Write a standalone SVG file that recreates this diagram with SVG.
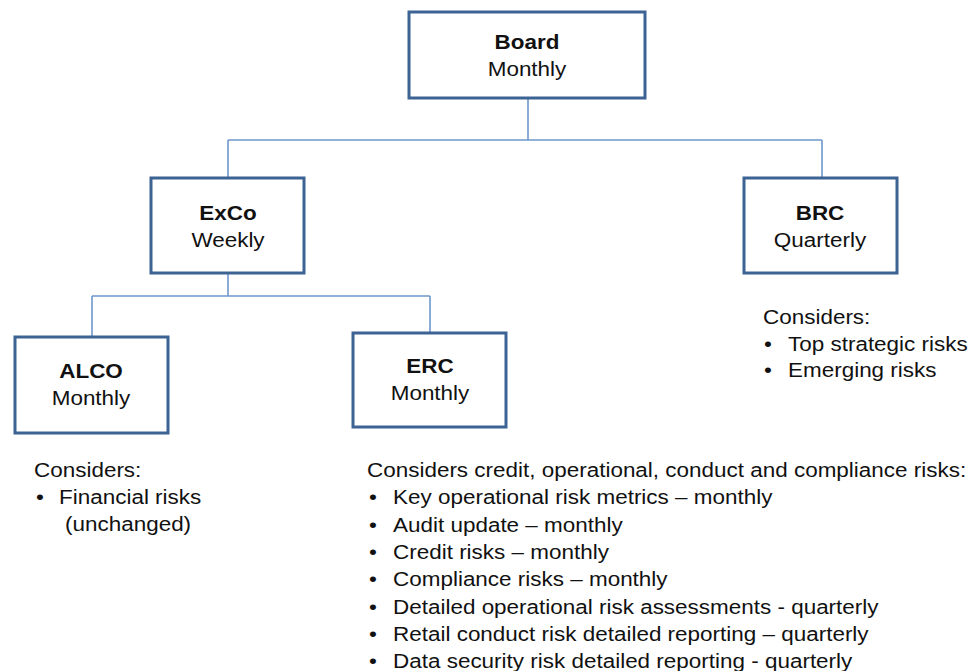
<svg xmlns="http://www.w3.org/2000/svg" width="974" height="671" viewBox="0 0 974 671">
<style>
.box{fill:#fff;stroke:#3D6394;stroke-width:3}
.conn{fill:none;stroke:#6E98CC;stroke-width:1.6}
text{font-family:"Liberation Sans",Arial,sans-serif;font-size:21px;fill:#111}
.c{text-anchor:middle}
.b{font-weight:bold}
</style>
<rect width="974" height="671" fill="#fff"/>
<g id="connectors">
<path class="conn" d="M528 98V140M228 140H822M228 140V178M822 140V178"/>
<path class="conn" d="M228 273V296M92 296H430M92 296V337M430 296V333"/>
</g>
<g id="board">
<rect class="box" x="409" y="12" width="236" height="86"/>
<text class="c b" transform="translate(527 49) scale(1.07 1)">Board</text>
<text class="c" transform="translate(527 76) scale(1.07 1)">Monthly</text>
</g>
<g id="exco">
<rect class="box" x="151" y="178" width="153" height="95"/>
<text class="c b" transform="translate(228 220) scale(1.07 1)">ExCo</text>
<text class="c" transform="translate(228 247) scale(1.07 1)">Weekly</text>
</g>
<g id="brc">
<rect class="box" x="744" y="178" width="153" height="95"/>
<text class="c b" transform="translate(820 220) scale(1.07 1)">BRC</text>
<text class="c" transform="translate(820 247) scale(1.07 1)">Quarterly</text>
</g>
<g id="alco">
<rect class="box" x="15" y="337" width="153" height="96"/>
<text class="c b" transform="translate(91 378) scale(1.07 1)">ALCO</text>
<text class="c" transform="translate(91 405) scale(1.07 1)">Monthly</text>
</g>
<g id="erc">
<rect class="box" x="353" y="333" width="153" height="94"/>
<text class="c b" transform="translate(430 373) scale(1.07 1)">ERC</text>
<text class="c" transform="translate(430 400) scale(1.07 1)">Monthly</text>
</g>
<g id="brc-notes">
<text transform="translate(763 324) scale(1.07 1)">Considers:</text>
<text transform="translate(764 351) scale(1.07 1)">•</text><text transform="translate(788 351) scale(1.07 1)">Top strategic risks</text>
<text transform="translate(764 377) scale(1.07 1)">•</text><text transform="translate(788 377) scale(1.07 1)">Emerging risks</text>
</g>
<g id="alco-notes">
<text transform="translate(34 477) scale(1.07 1)">Considers:</text>
<text transform="translate(36 504) scale(1.07 1)">•</text><text transform="translate(59 504) scale(1.07 1)">Financial risks</text>
<text transform="translate(65 531) scale(1.07 1)">(unchanged)</text>
</g>
<g id="erc-notes">
<text transform="translate(367 477) scale(1.07 1)">Considers credit, operational, conduct and compliance risks:</text>
<text transform="translate(369 504) scale(1.07 1)">•</text><text transform="translate(393 504) scale(1.07 1)">Key operational risk metrics – monthly</text>
<text transform="translate(369 532) scale(1.07 1)">•</text><text transform="translate(393 532) scale(1.07 1)">Audit update – monthly</text>
<text transform="translate(369 559) scale(1.07 1)">•</text><text transform="translate(393 559) scale(1.07 1)">Credit risks – monthly</text>
<text transform="translate(369 586) scale(1.07 1)">•</text><text transform="translate(393 586) scale(1.07 1)">Compliance risks – monthly</text>
<text transform="translate(369 614) scale(1.07 1)">•</text><text transform="translate(393 614) scale(1.07 1)">Detailed operational risk assessments - quarterly</text>
<text transform="translate(369 641) scale(1.07 1)">•</text><text transform="translate(393 641) scale(1.07 1)">Retail conduct risk detailed reporting – quarterly</text>
<text transform="translate(369 668) scale(1.07 1)">•</text><text transform="translate(393 668) scale(1.07 1)">Data security risk detailed reporting - quarterly</text>
</g>
</svg>
